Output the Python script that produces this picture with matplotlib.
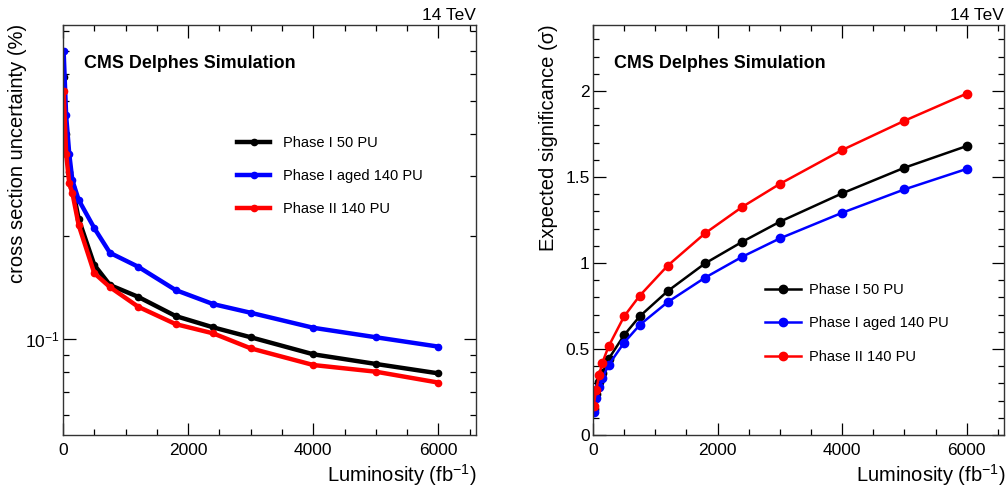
import numpy as np
import matplotlib
matplotlib.use("Agg")
import matplotlib.pyplot as plt
from matplotlib.ticker import MultipleLocator, NullFormatter, LogLocator, FuncFormatter

plt.rcParams['font.family'] = ['Liberation Sans', 'DejaVu Sans']
plt.rcParams['mathtext.fontset'] = 'custom'
plt.rcParams['mathtext.rm'] = 'Liberation Sans'
plt.rcParams['mathtext.it'] = 'Liberation Sans:italic'

# integrated luminosity points (fb^-1)
lumi = [10, 50, 100, 150, 250, 500, 750, 1200, 1800, 2400, 3000, 4000, 5000, 6000]

labels = ["Phase I 50 PU", "Phase I aged 140 PU", "Phase II 140 PU"]
colors = ["black", "blue", "red"]

# cross section uncertainty
xsec_p1_50 = [0.588, 0.40, 0.31, 0.28, 0.225, 0.165, 0.144, 0.133, 0.1168, 0.1082, 0.1012, 0.0902, 0.0845, 0.0793]
xsec_p1_aged = [0.70, 0.453, 0.349, 0.292, 0.256, 0.2115, 0.179, 0.163, 0.1392, 0.1266, 0.1194, 0.1079, 0.1012, 0.0950]
xsec_p2_140 = [0.535, 0.35, 0.286, 0.268, 0.216, 0.156, 0.142, 0.1244, 0.1106, 0.1039, 0.0939, 0.0839, 0.0802, 0.0745]

# expected significance
sig_p1_50 = [0.15, 0.24, 0.31, 0.36, 0.442, 0.581, 0.69, 0.837, 0.998, 1.124, 1.24, 1.405, 1.554, 1.68]
sig_p1_aged = [0.132, 0.213, 0.277, 0.33, 0.407, 0.537, 0.64, 0.773, 0.915, 1.037, 1.143, 1.292, 1.428, 1.547]
sig_p2_140 = [0.17, 0.26, 0.35, 0.42, 0.515, 0.69, 0.81, 0.985, 1.173, 1.327, 1.46, 1.657, 1.827, 1.985]

fig = plt.figure(figsize=(10.08, 4.92), dpi=100)
axL = fig.add_axes([63/1008, 1-435/492, 413/1008, 410/492])
axR = fig.add_axes([593/1008, 1-435/492, 411/1008, 410/492])

# left: uncertainty, thick lines
for ys, c, lab in zip([xsec_p1_50, xsec_p1_aged, xsec_p2_140], colors, labels):
    axL.plot(lumi, ys, color=c, lw=3.2, marker='o', ms=4.5, label=lab)
axL.set_yscale('log')
axL.set_ylim(0.0523, 0.834)
axL.yaxis.set_minor_formatter(NullFormatter())
axL.yaxis.set_minor_locator(LogLocator(base=10, subs=np.arange(2, 10)))

# right: significance
for ys, c, lab in zip([sig_p1_50, sig_p1_aged, sig_p2_140], colors, labels):
    axR.plot(lumi, ys, color=c, lw=1.8, marker='o', ms=6, label=lab)
axR.set_ylim(0, 2.384)
axR.yaxis.set_major_locator(MultipleLocator(0.5))
axR.yaxis.set_minor_locator(MultipleLocator(0.1))
axR.yaxis.set_major_formatter(FuncFormatter(lambda v, p: "%g" % v))

for ax in (axL, axR):
    ax.set_xlim(0, 6600)
    ax.xaxis.set_major_locator(MultipleLocator(2000))
    ax.xaxis.set_minor_locator(MultipleLocator(500))
    ax.tick_params(which='both', direction='in', top=True, right=True, labelsize=12.5, width=0.9)
    ax.tick_params(which='major', length=9)
    ax.tick_params(which='minor', length=4.5)
    ax.tick_params(axis='x', pad=5.5)
    ax.tick_params(axis='y', pad=2.5)
    for s in ax.spines.values():
        s.set_linewidth(1.0)
        s.set_color('#333333')
    ax.text(0.051, 0.907, "CMS Delphes Simulation", transform=ax.transAxes,
            fontsize=12.9, fontweight='bold', va='center', ha='left')
    ax.text(1.0, 1 + 5/410, "14 TeV", transform=ax.transAxes, fontsize=12.5,
            ha='right', va='baseline')

axL.legend(loc='upper left', bbox_to_anchor=(0.421, 0.730), frameon=False,
           fontsize=10.5, handlelength=2.3, handletextpad=0.85, labelspacing=1.33,
           borderpad=0, borderaxespad=0)
axR.legend(loc='upper left', bbox_to_anchor=(0.418, 0.371), frameon=False,
           fontsize=10.5, handlelength=2.5, handletextpad=0.55, labelspacing=1.33,
           borderpad=0, borderaxespad=0)

# axis titles
fig.text(17.5/1008, 1-24/492, "cross section uncertainty (%)", rotation=90,
         ha='center', va='top', fontsize=14.5)
fig.text(549/1008, 1-24/492, "Expected significance (\u03c3)", rotation=90,
         ha='center', va='top', fontsize=14.5)
fig.text(476/1008, 1-482/492, "Luminosity (fb$^{-1}$)", ha='right', va='baseline', fontsize=14.5)
fig.text(1005/1008, 1-482/492, "Luminosity (fb$^{-1}$)", ha='right', va='baseline', fontsize=14.5)

fig.savefig("out.png", dpi=100)
